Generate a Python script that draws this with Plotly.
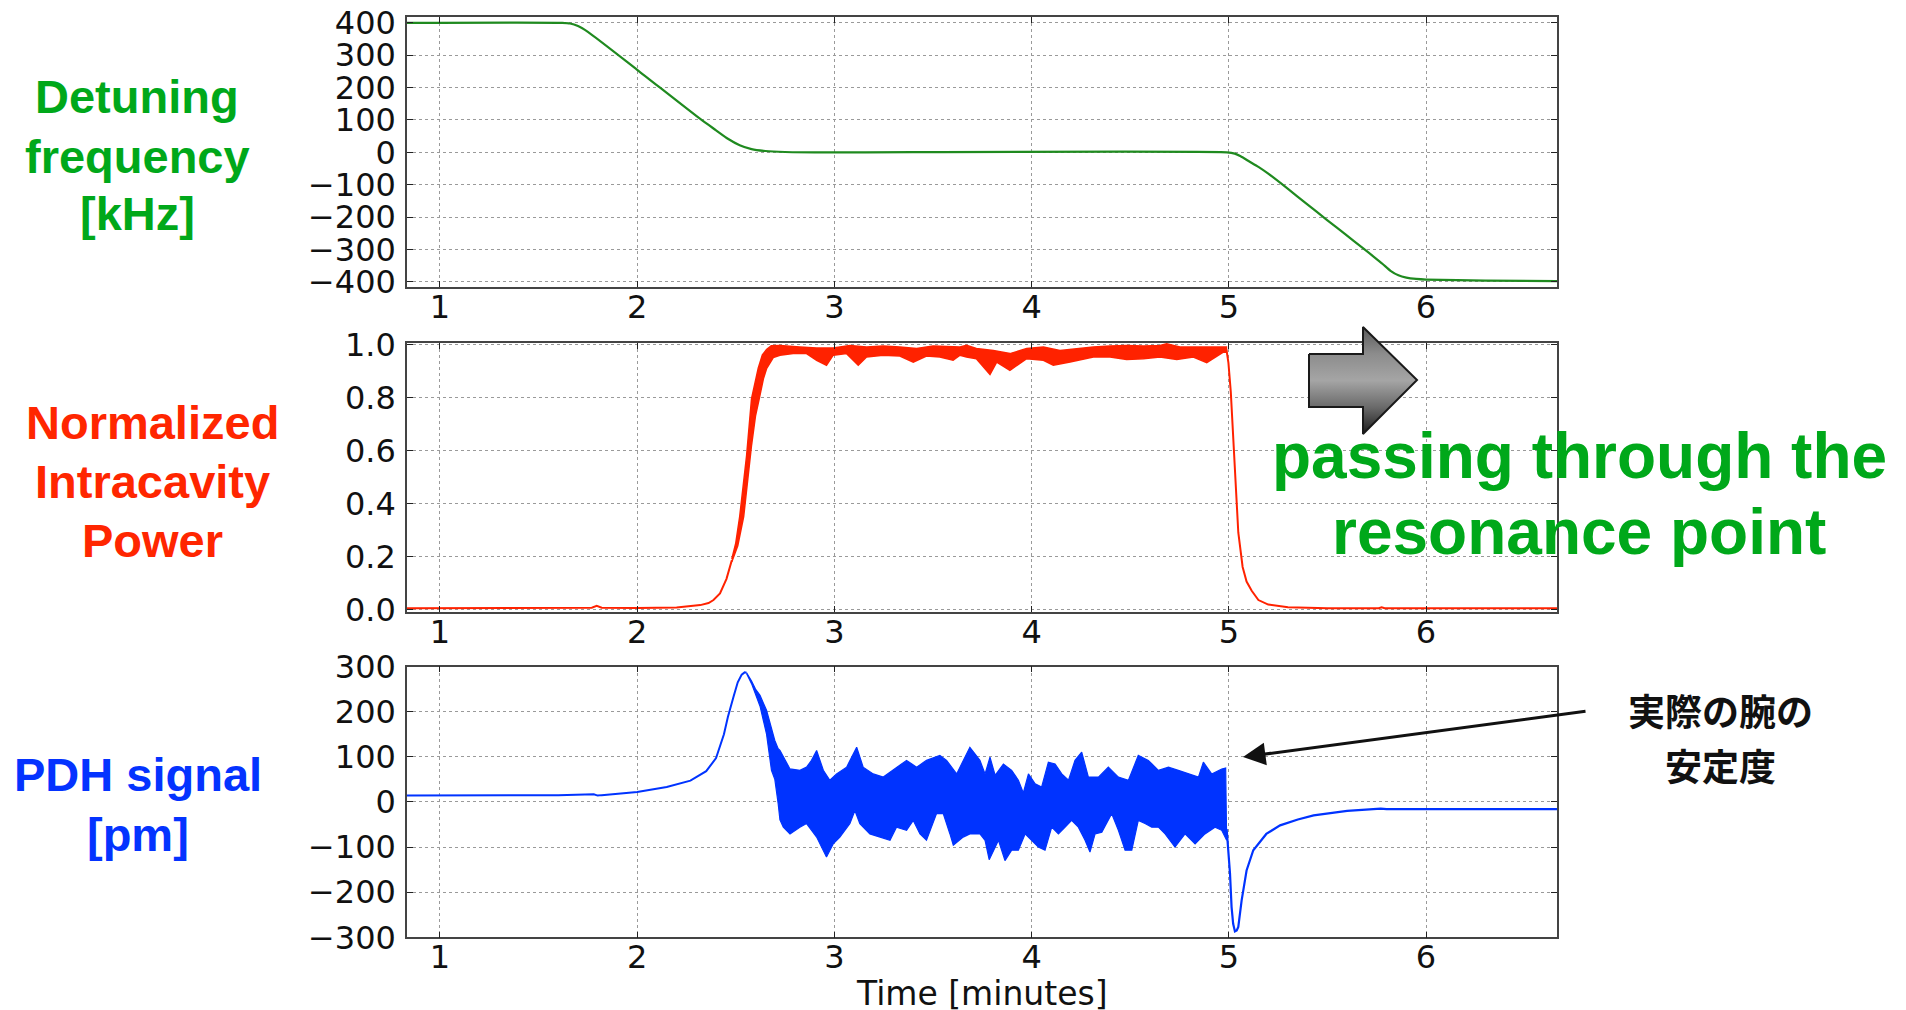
import plotly.graph_objects as go

# ---------------- data ----------------
# Detuning frequency [kHz]
det_t = [0.833, 1.62, 1.66, 1.70, 1.75, 2.0, 2.32, 2.40, 2.46, 2.52, 2.58, 2.65, 2.75, 2.9,
         4.99, 5.03, 5.06, 5.10, 5.15, 5.20, 5.30, 5.39, 5.50, 5.59, 5.68, 5.74, 5.78, 5.82,
         5.86, 5.90, 5.95, 6.0, 6.3, 6.664]
det_v = [400, 400, 398, 390, 372, 255, 103, 68, 42, 22, 10, 4, 1, 0,
         0, -4, -12, -27, -45, -66, -113, -157, -210, -253, -296, -325, -345, -366,
         -380, -387, -391, -393, -396, -398]

# Normalized intracavity power
pwr_pre_t = [0.833, 1.2, 1.6, 1.77, 1.795, 1.82, 2.0, 2.2, 2.32, 2.362, 2.387, 2.42, 2.453, 2.48]
pwr_pre_v = [0.004, 0.004, 0.005, 0.006, 0.013, 0.006, 0.005, 0.007, 0.016, 0.024, 0.035, 0.06, 0.115, 0.185]
pwr_up_t = [2.48, 2.50, 2.52, 2.54, 2.555, 2.58, 2.60, 2.614, 2.635, 2.656, 2.68, 2.724, 2.825, 2.91,
            2.994, 3.079, 3.163, 3.247, 3.332, 3.417, 3.501, 3.586, 3.637, 3.67, 3.72, 3.806, 3.89,
            3.975, 4.06, 4.144, 4.229, 4.313, 4.398, 4.482, 4.567, 4.651, 4.685, 4.752, 4.82, 4.905,
            4.972, 4.988]
pwr_up_v = [0.19, 0.25, 0.35, 0.48, 0.58, 0.795, 0.87, 0.91, 0.96, 0.98, 0.995, 0.996, 0.99, 0.986,
            0.986, 0.996, 0.99, 0.994, 0.99, 0.984, 0.994, 0.99, 0.99, 0.996, 0.984, 0.977, 0.965,
            0.984, 0.99, 0.977, 0.984, 0.99, 0.994, 0.996, 0.994, 0.996, 1.002, 0.99, 0.99, 0.99,
            0.99, 0.99]
pwr_lo_t = [2.48, 2.51, 2.54, 2.56, 2.58, 2.60, 2.619, 2.64, 2.656, 2.69, 2.724, 2.791, 2.859, 2.91,
            2.96, 2.994, 3.062, 3.121, 3.163, 3.247, 3.332, 3.40, 3.467, 3.535, 3.602, 3.637, 3.67,
            3.72, 3.789, 3.823, 3.89, 3.975, 4.06, 4.11, 4.195, 4.313, 4.398, 4.482, 4.567, 4.651,
            4.736, 4.82, 4.888, 4.972, 4.988]
pwr_lo_v = [0.18, 0.24, 0.35, 0.49, 0.62, 0.73, 0.795, 0.87, 0.908, 0.95, 0.959, 0.965, 0.965, 0.94,
            0.921, 0.959, 0.965, 0.921, 0.952, 0.959, 0.956, 0.933, 0.956, 0.952, 0.940, 0.959, 0.952,
            0.946, 0.886, 0.933, 0.902, 0.946, 0.940, 0.921, 0.933, 0.952, 0.952, 0.943, 0.946, 0.952,
            0.943, 0.952, 0.931, 0.971, 0.97]
pwr_post_t = [4.988, 4.998, 5.01, 5.025, 5.036, 5.048, 5.07, 5.09, 5.116, 5.15, 5.2, 5.3, 5.5,
              5.76, 5.775, 5.79, 6.0, 6.664]
pwr_post_v = [0.98, 0.93, 0.82, 0.62, 0.44, 0.29, 0.16, 0.105, 0.07, 0.035, 0.018, 0.008, 0.004,
              0.004, 0.008, 0.004, 0.004, 0.004]

# PDH signal [pm]
pdh_pre_t = [0.833, 1.0, 1.3, 1.6, 1.78, 1.80, 1.82, 2.0, 2.15, 2.27, 2.35, 2.40, 2.44, 2.46,
             2.49, 2.51, 2.53, 2.545, 2.555]
pdh_pre_v = [14, 14, 14, 15, 17, 14, 15, 22, 33, 47, 68, 97, 150, 188, 235, 265, 282, 287, 286]
pdh_up_t = [2.555, 2.58, 2.60, 2.623, 2.656, 2.681, 2.698, 2.715, 2.724, 2.775, 2.825, 2.859, 2.884,
            2.910, 2.944, 2.977, 3.011, 3.062, 3.113, 3.146, 3.197, 3.248, 3.298, 3.366, 3.417,
            3.467, 3.535, 3.569, 3.620, 3.687, 3.738, 3.764, 3.789, 3.815, 3.857, 3.899, 3.933,
            3.958, 3.984, 4.018, 4.051, 4.085, 4.119, 4.153, 4.187, 4.220, 4.254, 4.288, 4.339,
            4.389, 4.440, 4.491, 4.541, 4.592, 4.643, 4.694, 4.744, 4.795, 4.846, 4.871, 4.913,
            4.964, 4.984]
pdh_up_v = [286, 268, 250, 236, 203, 166, 136, 118, 114, 73, 70, 77, 92,
            114, 70, 48, 62, 77, 121, 77, 62, 55, 70, 92, 77,
            92, 103, 92, 62, 121, 92, 62, 99, 59, 84, 70, 48,
            20, 62, 40, 33, 88, 84, 62, 48, 92, 110, 55, 55,
            77, 55, 48, 103, 92, 70, 77, 70, 62, 55, 88, 62,
            73, 75]
pdh_lo_t = [2.555, 2.58, 2.60, 2.623, 2.656, 2.681, 2.698, 2.715, 2.724, 2.741, 2.775, 2.825, 2.859,
            2.910, 2.960, 2.994, 3.028, 3.079, 3.104, 3.129, 3.180, 3.231, 3.282, 3.315, 3.366,
            3.400, 3.434, 3.467, 3.518, 3.552, 3.586, 3.603, 3.653, 3.687, 3.738, 3.764, 3.785,
            3.832, 3.865, 3.899, 3.933, 3.967, 4.001, 4.034, 4.068, 4.102, 4.136, 4.170, 4.203,
            4.237, 4.271, 4.296, 4.322, 4.356, 4.406, 4.440, 4.474, 4.508, 4.541, 4.575, 4.609,
            4.643, 4.677, 4.727, 4.778, 4.829, 4.879, 4.930, 4.964, 4.989]
pdh_lo_v = [284, 262, 240, 212, 150, 70, 50, -4, -40, -56, -71, -56, -48,
            -78, -122, -93, -78, -48, -19, -48, -71, -78, -85, -56, -63,
            -41, -71, -85, -26, -26, -71, -96, -78, -71, -71, -85, -128,
            -85, -130, -107, -107, -71, -85, -100, -107, -56, -71, -56, -41,
            -56, -85, -111, -71, -67, -26, -63, -107, -107, -41, -48, -56,
            -56, -71, -100, -71, -93, -71, -56, -63, -85]
pdh_post_t = [4.989, 4.996, 5.006, 5.014, 5.022, 5.031, 5.040, 5.048, 5.065, 5.09, 5.124, 5.19,
              5.26, 5.35, 5.43, 5.60, 5.77, 5.80, 6.0, 6.664]
pdh_post_v = [-60, -100, -159, -233, -270, -287, -285, -277, -218, -152, -107, -71,
              -52, -39, -30, -20, -15, -16, -16, -16]

x_ticks = [1, 2, 3, 4, 5, 6]
det_ticks = [-400, -300, -200, -100, 0, 100, 200, 300, 400]
pwr_ticks = [0.0, 0.2, 0.4, 0.6, 0.8, 1.0]
pdh_ticks = [-300, -200, -100, 0, 100, 200, 300]

# ---------------- styling ----------------
W, H = 1906, 1010
GREEN_LINE = "#1f8a1f"
RED = "#ff2200"
BLUE = "#0033ff"
TXT_GREEN = "#00a81a"
TXT_RED = "#ff2600"
TXT_BLUE = "#0433ff"
TICKFONT = dict(family="DejaVu Sans", size=32, color="#111111")

fig = go.Figure()

# detuning
fig.add_trace(go.Scatter(x=det_t, y=det_v, mode="lines",
                         line=dict(color=GREEN_LINE, width=2.2, shape="spline", smoothing=0.6),
                         xaxis="x", yaxis="y", hoverinfo="skip"))

# power
fig.add_trace(go.Scatter(x=pwr_pre_t, y=pwr_pre_v, mode="lines", line=dict(color=RED, width=2),
                         xaxis="x2", yaxis="y2", hoverinfo="skip"))
fig.add_trace(go.Scatter(x=pwr_up_t + pwr_lo_t[::-1], y=pwr_up_v + pwr_lo_v[::-1], mode="lines",
                         fill="toself", fillcolor=RED, line=dict(color=RED, width=1.5),
                         xaxis="x2", yaxis="y2", hoverinfo="skip"))
fig.add_trace(go.Scatter(x=pwr_post_t, y=pwr_post_v, mode="lines", line=dict(color=RED, width=2),
                         xaxis="x2", yaxis="y2", hoverinfo="skip"))

# PDH
fig.add_trace(go.Scatter(x=pdh_pre_t, y=pdh_pre_v, mode="lines", line=dict(color=BLUE, width=2),
                         xaxis="x3", yaxis="y3", hoverinfo="skip"))
fig.add_trace(go.Scatter(x=pdh_up_t + pdh_lo_t[::-1], y=pdh_up_v + pdh_lo_v[::-1], mode="lines",
                         fill="toself", fillcolor=BLUE, line=dict(color=BLUE, width=1.2),
                         xaxis="x3", yaxis="y3", hoverinfo="skip"))
fig.add_trace(go.Scatter(x=pdh_post_t, y=pdh_post_v, mode="lines", line=dict(color=BLUE, width=2.2),
                         xaxis="x3", yaxis="y3", hoverinfo="skip"))

# decorative block arrow (pixel overlay)
arrow_px = [1309, 1363, 1363, 1417, 1363, 1363, 1309, 1309]
arrow_py = [354, 354, 327, 380, 434, 407, 407, 354]
fig.add_trace(go.Scatter(x=arrow_px, y=arrow_py, mode="lines", fill="toself",
                         line=dict(color="#1a1a1a", width=2),
                         fillgradient=dict(type="vertical", start=327, stop=434,
                                           colorscale=[[0, "#5a5a5a"], [0.25, "#8c8c8c"],
                                                       [0.5, "#a5a5a5"], [0.75, "#6a6a6a"],
                                                       [1, "#1c1c1c"]]),
                         xaxis="x4", yaxis="y4", hoverinfo="skip"))

XDOM = [407 / W, 1557 / W]
def ydom(top, bottom):
    return [1 - bottom / H, 1 - top / H]

common_x = dict(range=[0.833, 6.664], tickmode="array", tickvals=x_ticks, ticktext=[str(v) for v in x_ticks],
                showgrid=True, gridcolor="#9a9a9a", griddash="dot", gridwidth=1,
                showline=True, linecolor="#444444", linewidth=1.5, mirror="allticks",
                ticks="inside", ticklen=6, tickcolor="#222222", tickfont=TICKFONT,
                zeroline=False, domain=XDOM, fixedrange=True, ticklabelstandoff=-9,
                automargin=False)
common_y = dict(showgrid=True, gridcolor="#9a9a9a", griddash="dot", gridwidth=1,
                showline=True, linecolor="#444444", linewidth=1.5, mirror="allticks",
                ticks="inside", ticklen=6, tickcolor="#222222", tickfont=TICKFONT,
                zeroline=False, fixedrange=True, tickmode="array", ticklabelstandoff=3,
                automargin=False)

fig.update_layout(
    width=W, height=H, margin=dict(l=0, r=0, t=0, b=0, autoexpand=False),
    paper_bgcolor="white", plot_bgcolor="rgba(0,0,0,0)", showlegend=False,
    xaxis=dict(common_x, anchor="y"),
    yaxis=dict(common_y, anchor="x", domain=ydom(17, 287), range=[-416, 418],
               tickvals=det_ticks, ticktext=[str(v).replace("-", "\u2212") for v in det_ticks]),
    xaxis2=dict(common_x, anchor="y2"),
    yaxis2=dict(common_y, anchor="x2", domain=ydom(343, 612), range=[-0.01, 1.005],
                tickvals=pwr_ticks, ticktext=["%.1f" % v for v in pwr_ticks]),
    xaxis3=dict(common_x, anchor="y3"),
    yaxis3=dict(common_y, anchor="x3", domain=ydom(666.5, 937.3), range=[-300, 300],
                tickvals=pdh_ticks, ticktext=[str(v).replace("-", "\u2212") for v in pdh_ticks]),
    xaxis4=dict(domain=[0, 1], range=[0, W], visible=False, anchor="y4", fixedrange=True, automargin=False),
    yaxis4=dict(domain=[0, 1], range=[H, 0], visible=False, anchor="x4", fixedrange=True, automargin=False),
)

def label(text, x, y, color, size, family="Liberation Sans"):
    fig.add_annotation(text=text, x=x / W, y=1 - y / H, xref="paper", yref="paper",
                       xanchor="center", yanchor="middle", showarrow=False,
                       font=dict(family=family, size=size, color=color))

# side labels
for txt, y in (("<b>Detuning</b>", 97), ("<b>frequency</b>", 156), ("<b>[kHz]</b>", 214)):
    label(txt, 137, y, TXT_GREEN, 47)
for txt, y in (("<b>Normalized</b>", 423), ("<b>Intracavity</b>", 481), ("<b>Power</b>", 540)):
    label(txt, 152, y, TXT_RED, 47)
for txt, y in (("<b>PDH signal</b>", 774), ("<b>[pm]</b>", 834)):
    label(txt, 138, y, TXT_BLUE, 47)

label("<b>passing through the</b>", 1579, 456, TXT_GREEN, 64)
label("<b>resonance point</b>", 1579, 532, TXT_GREEN, 64)

label("<b>実際の腕の</b>", 1720, 710, "#111111", 37, family="Noto Sans CJK JP")
label("<b>安定度</b>", 1720, 765, "#111111", 37, family="Noto Sans CJK JP")

label("Time [minutes]", 982, 993, "#111111", 33, family="DejaVu Sans")

# pointer arrow
fig.add_annotation(x=1243 / W, y=1 - 757 / H, xref="paper", yref="paper",
                   ax=344, ay=-46, axref="pixel", ayref="pixel", text="",
                   showarrow=True, arrowhead=2, arrowsize=1.5, arrowwidth=3, arrowcolor="#111111")

fig.write_html("out.html")
